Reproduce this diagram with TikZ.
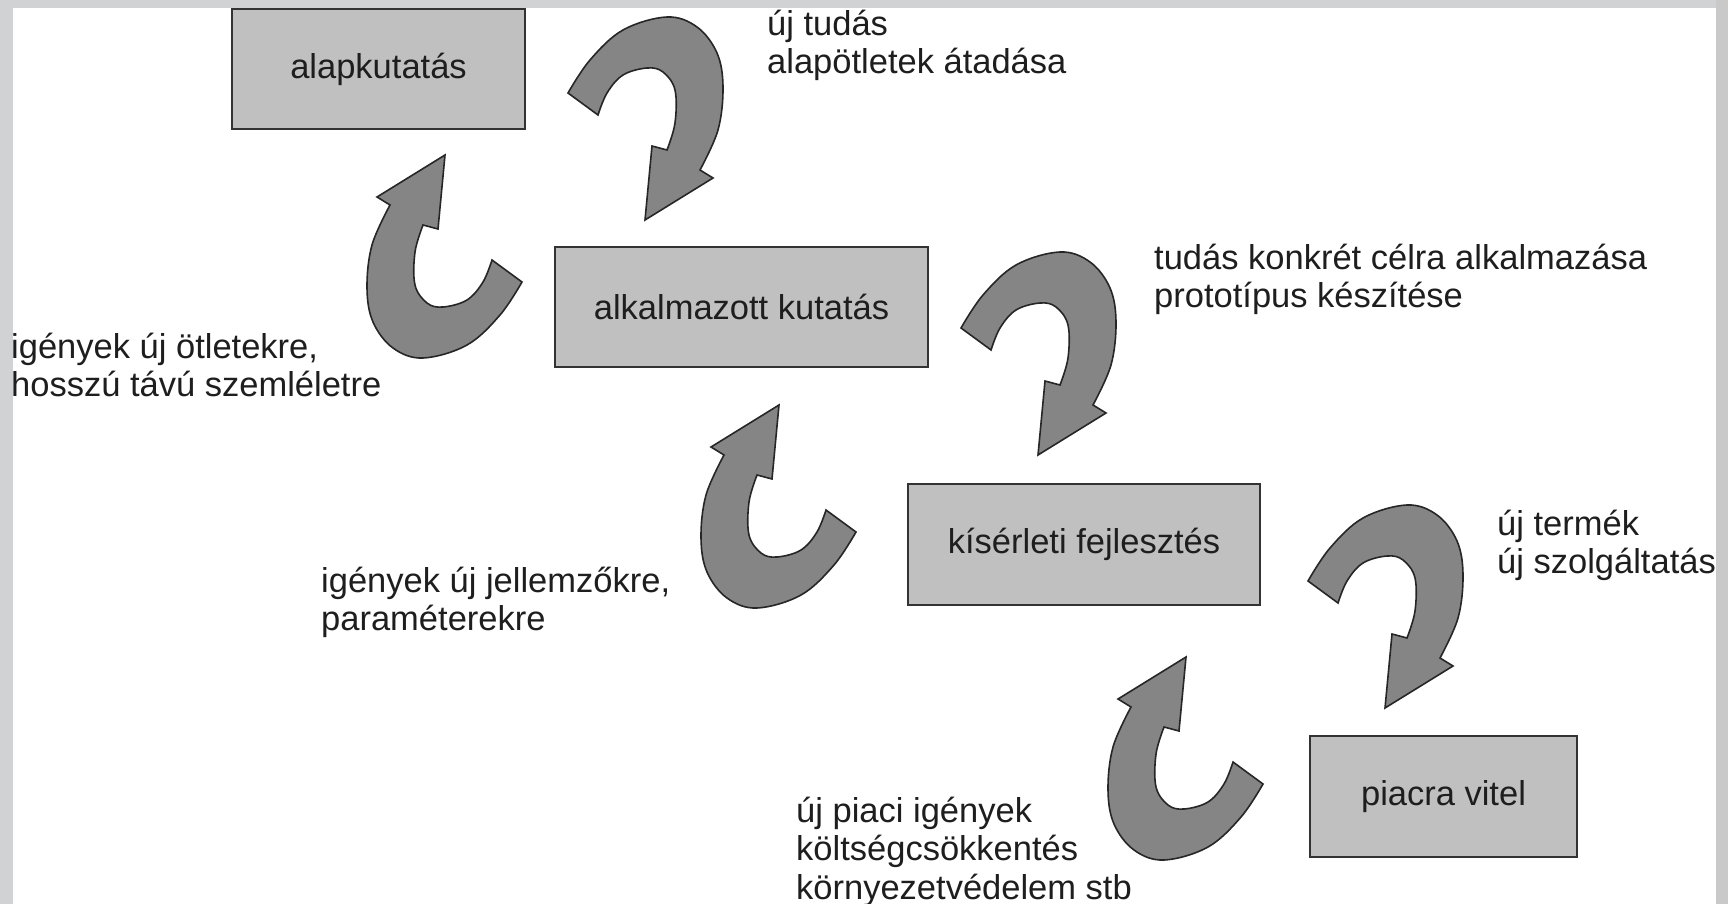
\documentclass[tikz,border=0pt]{standalone}
\usepackage{fontspec}
\setmainfont{Liberation Sans}
\definecolor{boxfill}{HTML}{C0C0C0}
\definecolor{boxline}{HTML}{333333}
\definecolor{hookgrey}{HTML}{858585}
\definecolor{hookline}{HTML}{262626}
\definecolor{txt}{HTML}{1E1E1E}
\definecolor{framegrey}{HTML}{D1D2D4}
\definecolor{framegreyr}{HTML}{C9C9C9}
\newcommand{\bigtext}{\fontsize{34.5}{38.5}\selectfont}
\newcommand{\lstrut}{\rule{0pt}{35pt}}
\begin{document}
\begin{tikzpicture}[x=1pt,y=-1pt,
  stagebox/.style={draw=boxline, fill=boxfill, line width=2pt, inner sep=0pt,
    font=\bigtext, text=txt},
  lbl/.style={anchor=north west, inner sep=0pt, align=left, font=\bigtext, text=txt},
  hookfill/.style={draw=hookline, fill=hookgrey, line width=1.6pt, line join=miter},
  curvedhook/.pic={
    \filldraw[hookfill] (-77,-127)
      -- plot[smooth, tension=0.6] coordinates {(-77,-127) (-55,-160) (-22,-190) (22,-203) (52,-193) (72,-167) (78,-133) (73,-90) (55,-50)}
      -- (68,-42) -- (0,0) -- (7,-74) -- (22,-70)
      -- plot[smooth, tension=0.6] coordinates {(22,-70) (30,-97) (30,-130) (18,-148) (2,-152) (-22,-145) (-38,-127) (-47,-105)}
      -- cycle;
  }]
\useasboundingbox (0,0) rectangle (1728,904);
\fill[white] (0,0) rectangle (1728,904);

% boxes
\node[stagebox, minimum width=293pt, minimum height=120pt] (alap) at (378.5,69) {alapkutatás};
\node[stagebox, minimum width=373pt, minimum height=120pt] (alk) at (741.5,307) {alkalmazott kutatás};
\node[stagebox, minimum width=352pt, minimum height=121pt] (kis) at (1084,544.5) {kísérleti fejlesztés};
\node[stagebox, minimum width=267pt, minimum height=121pt] (piac) at (1443.5,796.5) {piacra vitel};

% curved arrows (tip positions)
\coordinate (a1) at (645,220);
\coordinate (a2) at (1038,455);
\coordinate (a3) at (1385,708);
\coordinate (b1) at (445,155);
\coordinate (b2) at (779,405);
\coordinate (b3) at (1186,657);
\pic at (a1) {curvedhook};
\pic at (a2) {curvedhook};
\pic at (a3) {curvedhook};
\pic[rotate=180] at (b1) {curvedhook};
\pic[rotate=180] at (b2) {curvedhook};
\pic[rotate=180] at (b3) {curvedhook};

% labels
\node[lbl] (t1) at (767,0) {\lstrut új tudás\\alapötletek átadása};
\node[lbl] (t2) at (1154,234) {\lstrut tudás konkrét célra alkalmazása\\prototípus készítése};
\node[lbl] (t3) at (11,323) {\lstrut igények új ötletekre,\\hosszú távú szemléletre};
\node[lbl] (t4) at (321,557) {\lstrut igények új jellemzőkre,\\paraméterekre};
\node[lbl] (t5) at (1497,500) {\lstrut új termék\\új szolgáltatás};
\node[lbl] (t6) at (796,787) {\lstrut új piaci igények\\költségcsökkentés\\környezetvédelem stb};

% frame
\fill[framegrey] (0,0) rectangle (13,904);
\fill[framegrey] (0,0) rectangle (1728,8);
\fill[framegreyr] (1716,0) rectangle (1728,904);
\end{tikzpicture}
\end{document}
